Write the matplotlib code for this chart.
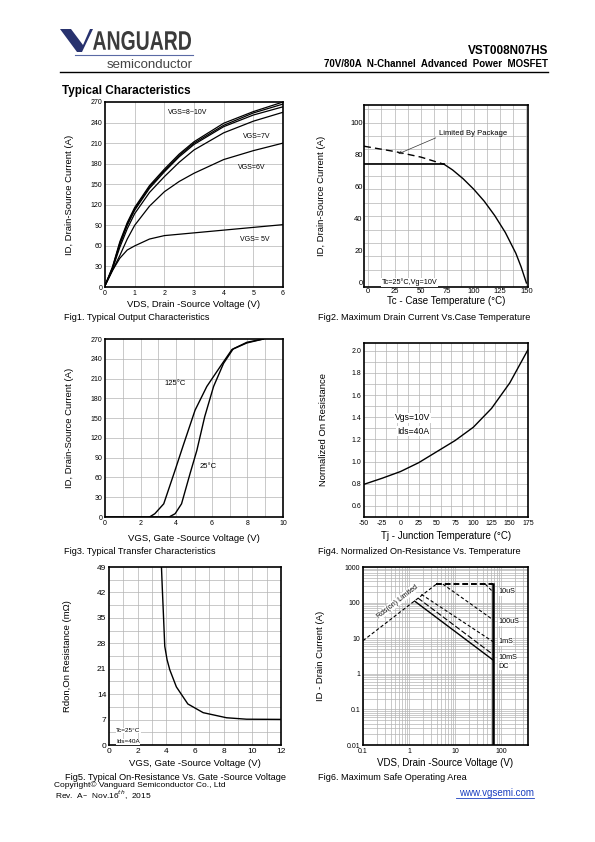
import matplotlib
matplotlib.use("Agg")
import matplotlib.pyplot as plt
from matplotlib.patches import Polygon, PathPatch
from matplotlib.lines import Line2D
from matplotlib.textpath import TextPath
from matplotlib.font_manager import FontProperties
from matplotlib.transforms import Affine2D

plt.rcParams['font.family'] = ['Liberation Sans', 'DejaVu Sans']

W, H = 595, 842

# Fig1 - output characteristics
vds = [0, 0.25, 0.5, 0.75, 1, 1.5, 2, 2.5, 3, 4, 5, 6]
id_vgs5 = [2, 24, 42, 54, 60, 70, 75, 77, 79, 83, 87, 91]
id_vgs6 = [2, 24, 46, 70, 90, 118, 139, 154, 166, 186, 199, 210]
id_vgs7 = [2, 26, 58, 85, 107, 138, 161, 182, 200, 225, 242, 255]
id_vgs8 = [2, 27, 62, 90, 112, 144, 168, 190, 208, 234, 251, 263]
id_vgs9 = [2, 28, 64, 92, 114, 146, 170, 192, 210, 236, 254, 267]
id_vgs10 = [2, 29, 66, 94, 116, 148, 172, 194, 212, 239, 256, 270]

# Fig2 - max drain current vs case temperature
tc_pkg = [-4, 25, 50, 72]
id_pkg = [85.3, 82, 78.5, 74]
tc_flat = [-4, 72]
id_flat = [74, 74]
tc_der = [72, 80, 90, 100, 110, 120, 130, 140, 145, 150]
id_der = [74, 70.5, 65, 58.5, 51, 42, 31.5, 18.5, 10, 0]

# Fig3 - transfer characteristics
vgs_125 = [2.5, 2.8, 3.3, 3.9, 4.4, 5.06, 5.72, 6.47, 7.13, 7.97, 8.9]
id_125 = [0, 5, 20, 68, 109, 162, 198, 228, 254, 264, 270]
vgs_25 = [0, 3.6, 3.94, 4.3, 4.78, 5.16, 5.6, 6.1, 6.66, 7.2, 7.97, 8.9]
id_25 = [0, 0, 5, 20, 66, 101, 152, 198, 233, 255, 265, 270]
vgs_off = [0, 2.5]
id_off = [0, 0]

# Fig4 - normalized on-resistance vs temperature
tj = [-50, -25, 0, 25, 50, 75, 100, 125, 150, 175]
rn = [0.795, 0.85, 0.91, 0.99, 1.09, 1.19, 1.31, 1.48, 1.71, 2.01]

# Fig5 - on-resistance vs gate voltage
vgs5 = [3.66, 3.72, 3.78, 3.89, 4.05, 4.24, 4.7, 5.5, 6.57, 8.2, 9.6, 12]
rdson = [49, 43, 37.5, 27.2, 23.5, 20.7, 16, 11.3, 8.9, 7.5, 7.1, 7.05]

# Fig6 - safe operating area
soa_rds_v = [0.1, 3.9]
soa_rds_i = [8.5, 330]
soa_pkg_v = [3.9, 66]
soa_pkg_i = [330, 330]
soa_10us_v = [45, 66]
soa_10us_i = [330, 200]
soa_100us_v = [5.4, 66]
soa_100us_i = [330, 33]
soa_1ms_v = [1.85, 66]
soa_1ms_i = [170, 8]
soa_10ms_v = [1.56, 66]
soa_10ms_i = [134, 3.5]
soa_dc_v = [1.32, 66]
soa_dc_i = [110, 2.45]
vds_max = 66
soa_labels = ['10uS', '100uS', '1mS', '10mS', 'DC']
soa_label_i = [203, 29, 7.9, 2.9, 1.65]

GRID = '#b4b4b4'


def add_ax(x0, y0, x1, y1):
    return fig.add_axes([x0 / W, 1 - y1 / H, (x1 - x0) / W, (y1 - y0) / H])


def ftext(x, y, s, **kw):
    return fig.text(x / W, 1 - y / H, s, **kw)


def style(ax):
    ax.tick_params(length=0, labelsize=5, pad=2)
    for s in ax.spines.values():
        s.set_linewidth(1.2)
    ax.set_axisbelow(True)


def vgrid(ax, xs):
    for x in xs:
        ax.axvline(x, color=GRID, lw=0.5, zorder=0)


def hgrid(ax, ys):
    for y in ys:
        ax.axhline(y, color=GRID, lw=0.5, zorder=0)


def frange(a, b, step):
    out = []
    v = a
    while v <= b + 1e-9:
        out.append(v)
        v += step
    return out


fig = plt.figure(figsize=(W / 100, H / 100), dpi=100)

# ---------------- header ----------------
logo_v = [(60, 29), (71, 29), (83, 45), (90, 29), (93, 29), (82, 52), (77, 52)]
fig.patches.append(Polygon([(x / W, 1 - y / H) for x, y in logo_v], closed=True,
                           transform=fig.transFigure, facecolor='#28326e', edgecolor='none'))
# squeeze the logo word into its box (narrow bold look)
tp = TextPath((0, 0), 'ANGUARD', size=20, prop=FontProperties(family='Liberation Sans', weight='bold'))
ext = tp.get_extents()
logo_tf = (Affine2D().translate(-ext.x0, -ext.y0)
           .scale(98 / ext.width / W, 19 / ext.height / H)
           .translate(93 / W, 1 - 50 / H) + fig.transFigure)
fig.patches.append(PathPatch(tp, transform=logo_tf, facecolor='#3b3b3b', edgecolor='none'))
fig.lines.append(Line2D([75 / W, 193 / W], [1 - 55 / H, 1 - 55 / H], transform=fig.transFigure,
                        color='#5a6aa5', lw=0.8))
ftext(193, 65, 'semiconductor', fontsize=9.5, color='#444444', va='center', ha='right')
fig.lines.append(Line2D([60 / W, 548 / W], [1 - 72 / H, 1 - 72 / H], transform=fig.transFigure,
                        color='black', lw=1.0))
ftext(548, 51, 'VST008N07HS', fontsize=8.5, fontweight='bold', ha='right', va='center')
ftext(548, 64, '70V/80A  N-Channel  Advanced  Power  MOSFET', fontsize=7, fontweight='bold',
      ha='right', va='center')
ftext(62, 91, 'Typical Characteristics', fontsize=8.5, fontweight='bold', ha='left', va='center')

# ---------------- Fig1 ----------------
ax1 = add_ax(105, 102, 283, 287)
style(ax1)
vgrid(ax1, range(1, 6))
hgrid(ax1, range(30, 270, 30))
for ys in [id_vgs5, id_vgs6, id_vgs7, id_vgs8, id_vgs9, id_vgs10]:
    ax1.plot(vds, ys, color='black', lw=0.9)
ax1.set_xlim(0, 6)
ax1.set_ylim(0, 270)
ax1.set_xticks(range(0, 7))
ax1.set_yticks(range(0, 271, 30))
ax1.text(2.8, 254, 'VGS=8~10V', fontsize=5, ha='center', va='center')
ax1.text(5.1, 219, 'VGS=7V', fontsize=5, ha='center', va='center')
ax1.text(4.95, 174, 'VGS=6V', fontsize=5, ha='center', va='center')
ax1.text(5.05, 70, 'VGS= 5V', fontsize=5, ha='center', va='center')
ax1.set_xlabel('VDS, Drain -Source Voltage (V)', fontsize=6.8, labelpad=2)
ax1.set_ylabel('ID, Drain-Source Current (A)', fontsize=6.8, labelpad=12)
ftext(64, 317, 'Fig1. Typical Output Characteristics', fontsize=6.6, va='center')

# ---------------- Fig2 ----------------
ax2 = add_ax(364, 105, 528, 287)
style(ax2)
ax2.tick_params(labelsize=5.5, pad=1)
vgrid(ax2, frange(0, 150, 12.5))
hgrid(ax2, frange(100 / 12, 110, 100 / 12))
ax2.plot(tc_pkg, id_pkg, color='black', lw=1.0, dashes=(5, 3))
ax2.plot(tc_flat, id_flat, color='black', lw=1.2)
ax2.plot(tc_der, id_der, color='black', lw=1.0)
ax2.set_xlim(-4, 151.5)
ax2.set_ylim(-2.5, 111)
ax2.set_xticks(range(0, 151, 25))
ax2.set_yticks(range(0, 101, 20))
ax2.annotate('Limited By Package', xy=(28.5, 80.5), xytext=(99, 93), fontsize=5.5,
             ha='center', va='center',
             arrowprops=dict(arrowstyle='->', lw=0.5, color='#333333', shrinkA=0, shrinkB=0,
                             relpos=(0.0, 0.1)))
ax2.text(13, 0.5, 'Tc=25°C,Vg=10V', fontsize=5.2, ha='left', va='center',
         bbox=dict(facecolor='white', edgecolor='none', pad=0.5))
ax2.set_xlabel('Tc - Case Temperature (°C)', fontsize=7, labelpad=0.5)
ax2.set_ylabel('ID, Drain-Source Current (A)', fontsize=6.8, labelpad=17)
ftext(318, 318, 'Fig2. Maximum Drain Current Vs.Case Temperature', fontsize=6.6, va='center')

# ---------------- Fig3 ----------------
ax3 = add_ax(105, 339, 283, 517)
style(ax3)
vgrid(ax3, range(1, 10))
hgrid(ax3, range(30, 270, 30))
ax3.plot(vgs_off, id_off, color='black', lw=1.0)
ax3.plot(vgs_125, id_125, color='black', lw=1.0)
ax3.plot(vgs_25, id_25, color='black', lw=1.0)
ax3.set_xlim(0, 10)
ax3.set_ylim(0, 270)
ax3.set_xticks(range(0, 11, 2))
ax3.set_yticks(range(0, 271, 30))
ax3.text(3.95, 202, '125°C', fontsize=5.5, ha='center', va='center')
ax3.text(5.8, 76, '25°C', fontsize=5.5, ha='center', va='center')
ax3.set_xlabel('VGS, Gate -Source Voltage (V)', fontsize=6.8, labelpad=5)
ax3.set_ylabel('ID, Drain-Source Current (A)', fontsize=6.8, labelpad=12)
ftext(64, 551, 'Fig3. Typical Transfer Characteristics', fontsize=6.6, va='center')

# ---------------- Fig4 ----------------
ax4 = add_ax(364, 343, 528, 517)
style(ax4)
vgrid(ax4, frange(-35, 175, 15))
hgrid(ax4, frange(0.6, 2.05, 0.1))
ax4.plot(tj, rn, color='black', lw=1.0)
ax4.set_xlim(-50, 175)
ax4.set_ylim(0.5, 2.07)
ax4.set_xticks(range(-50, 176, 25))
ax4.set_xticklabels(['-50', '-25', '0', '25', '50', '75', '100', '125', '150', '175'])
ax4.set_yticks([0.6, 0.8, 1.0, 1.2, 1.4, 1.6, 1.8, 2.0])
ax4.set_yticklabels(['0.6', '0.8', '1.0', '1.2', '1.4', '1.6', '1.8', '2.0'])
ax4.text(17, 1.395, 'Vgs=10V', fontsize=6.2, ha='center', va='center',
         bbox=dict(facecolor='white', edgecolor='none', pad=0.5))
ax4.text(17, 1.275, 'Ids=40A', fontsize=6.2, ha='center', va='center',
         bbox=dict(facecolor='white', edgecolor='none', pad=0.5))
ax4.set_xlabel('Tj - Junction Temperature (°C)', fontsize=7, labelpad=3)
ax4.set_ylabel('Normalized On Resistance', fontsize=6.8, labelpad=17)
ftext(318, 551, 'Fig4. Normalized On-Resistance Vs. Temperature', fontsize=6.6, va='center')

# ---------------- Fig5 ----------------
ax5 = add_ax(109, 567, 281, 745)
style(ax5)
vgrid(ax5, range(1, 12))
hgrid(ax5, frange(3.5, 46, 3.5))
ax5.plot(vgs5, rdson, color='black', lw=1.0)
ax5.set_xlim(0, 12)
ax5.set_ylim(0, 49)
ax5.set_xticks(range(0, 13, 2))
ax5.set_yticks(range(0, 50, 7))
ax5.tick_params(labelsize=6)
ax5.text(0.5, 4.0, 'Tc=25°C', fontsize=4.6, ha='left', va='center',
         bbox=dict(facecolor='white', edgecolor='none', pad=0.3))
ax5.text(0.5, 0.9, 'Ids=40A', fontsize=4.6, ha='left', va='center',
         bbox=dict(facecolor='white', edgecolor='none', pad=0.3))
ax5.set_xlabel('VGS, Gate -Source Voltage (V)', fontsize=6.8, labelpad=3)
ax5.set_ylabel('Rdon,On Resistance (mΩ)', fontsize=6.8, labelpad=18)
ftext(65, 777, 'Fig5. Typical On-Resistance Vs. Gate -Source Voltage', fontsize=6.6, va='center')

# ---------------- Fig6 ----------------
ax6 = add_ax(363, 567, 528, 745)
style(ax6)
ax6.set_xscale('log')
ax6.set_yscale('log')
ax6.set_xlim(0.1, 380)
ax6.set_ylim(0.01, 1000)
ax6.grid(True, which='both', color=GRID, lw=0.5)
ax6.tick_params(which='minor', length=0)
ax6.plot(soa_rds_v, soa_rds_i, color='black', lw=0.8, dashes=(3, 2))
ax6.plot(soa_pkg_v, soa_pkg_i, color='black', lw=1.4, dashes=(3, 1.5))
ax6.plot(soa_10us_v, soa_10us_i, color='black', lw=0.8, dashes=(3, 2))
ax6.plot(soa_100us_v, soa_100us_i, color='black', lw=0.8, dashes=(3, 2))
ax6.plot(soa_1ms_v, soa_1ms_i, color='black', lw=0.8, dashes=(3, 2))
ax6.plot(soa_10ms_v, soa_10ms_i, color='black', lw=0.8, dashes=(5, 2))
ax6.plot(soa_dc_v, soa_dc_i, color='black', lw=1.0)
ax6.plot([vds_max, vds_max], [0.01, 330], color='black', lw=1.8)
ax6.set_xticks([0.1, 1, 10, 100])
ax6.set_xticklabels(['0.1', '1', '10', '100'])
ax6.set_yticks([0.01, 0.1, 1, 10, 100, 1000])
ax6.set_yticklabels(['0.01', '0.1', '1', '10', '100', '1000'])
for lab, yi in zip(soa_labels, soa_label_i):
    ax6.text(85, yi, lab, fontsize=5.2, ha='left', va='center',
             bbox=dict(facecolor='white', edgecolor='none', pad=0.3))
ax6.text(0.55, 105, 'Rds(on) Limited', fontsize=5, rotation=38, ha='center', va='center',
         bbox=dict(facecolor='white', edgecolor='none', pad=0.5))
ax6.set_xlabel('VDS, Drain -Source Voltage (V)', fontsize=7, labelpad=2)
ax6.set_ylabel('ID - Drain Current (A)', fontsize=6.8, labelpad=14)
ftext(318, 777, 'Fig6. Maximum Safe Operating Area', fontsize=6.6, va='center')

# ---------------- footer ----------------
ftext(54, 785, 'Copyright© Vanguard Semiconductor Co., Ltd', fontsize=6, va='center')
ftext(55, 795, 'Rev.  A\u2013  Nov.16$^{th}$,  2015', fontsize=6, va='center')
ftext(534, 793, 'www.vgsemi.com', fontsize=7, color='#1a3fc0', ha='right', va='center')
fig.lines.append(Line2D([456 / W, 534 / W], [1 - 798 / H, 1 - 798 / H], transform=fig.transFigure,
                        color='#1a3fc0', lw=0.6))

fig.savefig('out.png', dpi=100)
